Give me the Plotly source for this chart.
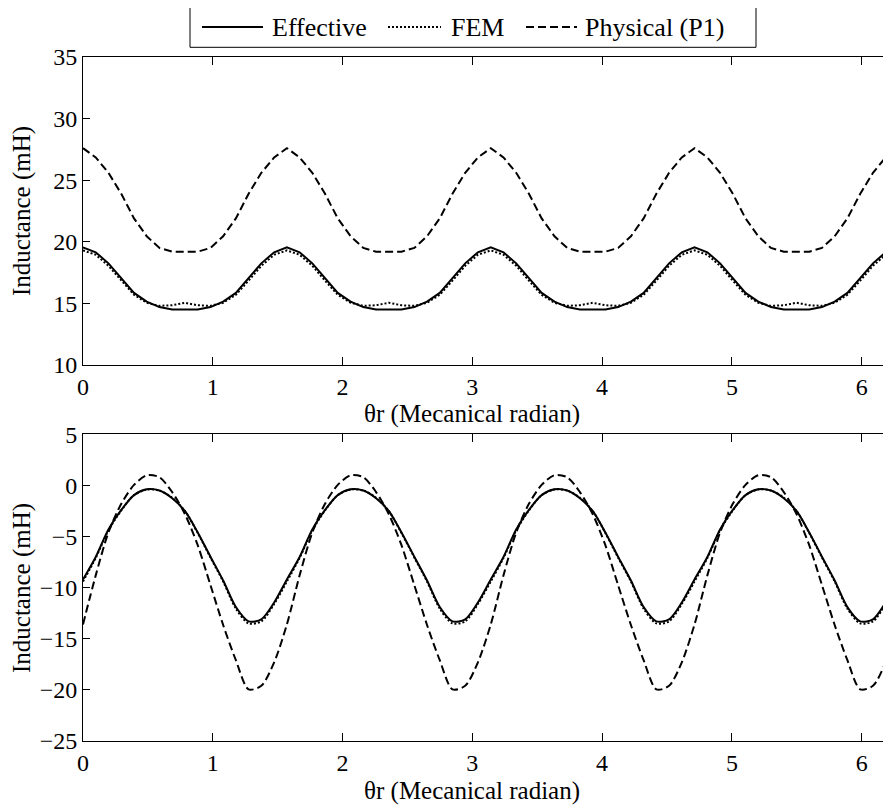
import plotly.graph_objects as go

theta = [0.000, 0.098, 0.196, 0.295, 0.393, 0.491, 0.589, 0.687, 0.785, 0.884, 0.982, 1.080, 1.178, 1.276, 1.374, 1.473,
         1.571, 1.669, 1.767, 1.865, 1.963, 2.062, 2.160, 2.258, 2.356, 2.454, 2.553, 2.651, 2.749, 2.847, 2.945, 3.043,
         3.142, 3.240, 3.338, 3.436, 3.534, 3.633, 3.731, 3.829, 3.927, 4.025, 4.123, 4.222, 4.320, 4.418, 4.516, 4.614,
         4.712, 4.811, 4.909, 5.007, 5.105, 5.203, 5.301, 5.400, 5.498, 5.596, 5.694, 5.792, 5.890, 5.989, 6.087, 6.185,
         6.283]

# Top panel
top_effective = [19.55, 19.15, 18.25, 17.05, 15.85, 15.15, 14.7, 14.5, 14.5, 14.5, 14.7, 15.15, 15.85, 17.05, 18.25, 19.15,
                 19.55, 19.15, 18.25, 17.05, 15.85, 15.15, 14.7, 14.5, 14.5, 14.5, 14.7, 15.15, 15.85, 17.05, 18.25, 19.15,
                 19.55, 19.15, 18.25, 17.05, 15.85, 15.15, 14.7, 14.5, 14.5, 14.5, 14.7, 15.15, 15.85, 17.05, 18.25, 19.15,
                 19.55, 19.15, 18.25, 17.05, 15.85, 15.15, 14.7, 14.5, 14.5, 14.5, 14.7, 15.15, 15.85, 17.05, 18.25, 19.15,
                 19.55]
top_fem = [19.3, 18.95, 18.05, 16.85, 15.7, 15.05, 14.8, 14.85, 15.05, 14.85, 14.8, 15.05, 15.7, 16.85, 18.05, 18.95,
           19.3, 18.95, 18.05, 16.85, 15.7, 15.05, 14.8, 14.85, 15.05, 14.85, 14.8, 15.05, 15.7, 16.85, 18.05, 18.95,
           19.3, 18.95, 18.05, 16.85, 15.7, 15.05, 14.8, 14.85, 15.05, 14.85, 14.8, 15.05, 15.7, 16.85, 18.05, 18.95,
           19.3, 18.95, 18.05, 16.85, 15.7, 15.05, 14.8, 14.85, 15.05, 14.85, 14.8, 15.05, 15.7, 16.85, 18.05, 18.95,
           19.3]
top_physical = [27.6, 26.85, 25.6, 23.9, 21.9, 20.45, 19.5, 19.2, 19.2, 19.2, 19.5, 20.45, 21.9, 23.9, 25.6, 26.85,
                27.6, 26.85, 25.6, 23.9, 21.9, 20.45, 19.5, 19.2, 19.2, 19.2, 19.5, 20.45, 21.9, 23.9, 25.6, 26.85,
                27.6, 26.85, 25.6, 23.9, 21.9, 20.45, 19.5, 19.2, 19.2, 19.2, 19.5, 20.45, 21.9, 23.9, 25.6, 26.85,
                27.6, 26.85, 25.6, 23.9, 21.9, 20.45, 19.5, 19.2, 19.2, 19.2, 19.5, 20.45, 21.9, 23.9, 25.6, 26.85,
                27.6]

# Bottom panel
bot_effective = [-9.2, -7.0, -4.3, -2.4, -0.95, -0.38, -0.5, -1.25, -2.5, -4.6, -6.97, -9.3, -11.9, -13.3, -13.1, -11.45,
                 -9.2, -7.0, -4.3, -2.4, -0.95, -0.38, -0.5, -1.25, -2.5, -4.6, -6.97, -9.3, -11.9, -13.3, -13.1, -11.45,
                 -9.2, -7.0, -4.3, -2.4, -0.95, -0.38, -0.5, -1.25, -2.5, -4.6, -6.97, -9.3, -11.9, -13.3, -13.1, -11.45,
                 -9.2, -7.0, -4.3, -2.4, -0.95, -0.38, -0.5, -1.25, -2.5, -4.6, -6.97, -9.3, -11.9, -13.3, -13.1, -11.45,
                 -9.2]
bot_fem = [-9.4, -7.1, -4.4, -2.45, -0.95, -0.4, -0.5, -1.2, -2.5, -4.65, -7.05, -9.4, -12.05, -13.5, -13.3, -11.6,
           -9.4, -7.1, -4.4, -2.45, -0.95, -0.4, -0.5, -1.2, -2.5, -4.65, -7.05, -9.4, -12.05, -13.5, -13.3, -11.6,
           -9.4, -7.1, -4.4, -2.45, -0.95, -0.4, -0.5, -1.2, -2.5, -4.65, -7.05, -9.4, -12.05, -13.5, -13.3, -11.6,
           -9.4, -7.1, -4.4, -2.45, -0.95, -0.4, -0.5, -1.2, -2.5, -4.65, -7.05, -9.4, -12.05, -13.5, -13.3, -11.6,
           -9.4]
bot_physical = [-13.6, -8.8, -4.6, -1.8, 0.05, 1.0, 0.8, -0.65, -2.8, -5.85, -9.75, -13.65, -17.1, -19.95, -19.6, -17.3,
                -13.6, -8.8, -4.6, -1.8, 0.05, 1.0, 0.8, -0.65, -2.8, -5.85, -9.75, -13.65, -17.1, -19.95, -19.6, -17.3,
                -13.6, -8.8, -4.6, -1.8, 0.05, 1.0, 0.8, -0.65, -2.8, -5.85, -9.75, -13.65, -17.1, -19.95, -19.6, -17.3,
                -13.6, -8.8, -4.6, -1.8, 0.05, 1.0, 0.8, -0.65, -2.8, -5.85, -9.75, -13.65, -17.1, -19.95, -19.6, -17.3,
                -13.6]

series_names = ["Effective", "FEM", "Physical (P1)"]
x_ticks = [0, 1, 2, 3, 4, 5, 6]
top_y_ticks = [10, 15, 20, 25, 30, 35]
bot_y_ticks = [-25, -20, -15, -10, -5, 0, 5]
x_title = "θr (Mecanical radian)"
y_title = "Inductance (mH)"

FONT = "Liberation Serif"
styles = [dict(color="black", width=2, dash="solid"),
          dict(color="black", width=2, dash="2px,2px"),
          dict(color="black", width=2, dash="8px,4px")]

fig = go.Figure()
for ys, st in zip([top_effective, top_fem, top_physical], styles):
    fig.add_trace(go.Scatter(x=theta, y=ys, mode="lines", line=st, showlegend=False,
                             xaxis="x", yaxis="y"))
for ys, st in zip([bot_effective, bot_fem, bot_physical], styles):
    fig.add_trace(go.Scatter(x=theta, y=ys, mode="lines", line=dict(**st, shape="spline", smoothing=0.8),
                             showlegend=False, xaxis="x2", yaxis="y2"))

axis_common = dict(showgrid=False, zeroline=False, showline=True, linecolor="black", linewidth=1,
                   ticks="inside", tickcolor="black", tickfont=dict(family=FONT, size=24, color="black"))

# the page body adds an 8px offset; reference pixel coords are converted below
O = 8
W, H = 891 - O, 806 - O
ML, MR, MT, MB = 83 - O, 0, 57 - O, 65
pw, ph = W - ML - MR, H - MT - MB


def px(xp):
    return (xp - O - ML) / pw


def py(yp):
    return (H - MB - (yp - O)) / ph


fig.update_layout(
    width=W, height=H,
    margin=dict(l=ML, r=MR, t=MT, b=MB),
    paper_bgcolor="white", plot_bgcolor="white",
    font=dict(family=FONT, size=24, color="black"),
    xaxis=dict(**axis_common, domain=[0, 1], range=[0, 6.226], tickvals=x_ticks, ticklen=8,
               mirror="ticks", anchor="y"),
    yaxis=dict(**axis_common, domain=[py(365), 1], range=[10, 35], tickvals=top_y_ticks, ticklen=7,
               anchor="x"),
    xaxis2=dict(**axis_common, domain=[0, 1], range=[0, 6.226], tickvals=x_ticks, ticklen=8,
                mirror="ticks", anchor="y2"),
    yaxis2=dict(**axis_common, domain=[0, py(434.3)], range=[-25, 5], tickvals=bot_y_ticks, ticklen=7,
                anchor="x2"),
)

ann = []
for yc in [414, 791]:
    ann.append(dict(x=px(472), y=py(yc), xref="paper", yref="paper", text=x_title, showarrow=False,
                    xanchor="center", yanchor="middle", font=dict(family=FONT, size=25)))
for yc in [211, 588]:
    ann.append(dict(x=px(22), y=py(yc), xref="paper", yref="paper", text=y_title, showarrow=False,
                    textangle=-90, xanchor="center", yanchor="middle", font=dict(family=FONT, size=25)))

# Legend box
shapes = [dict(type="rect", xref="paper", yref="paper", x0=px(190), x1=px(756), y0=py(47.3), y1=py(6.7),
               line=dict(color="black", width=1), fillcolor="white")]
leg_y = py(27)
samples = [(202, 263, 270), (388, 441, 449), (526, 577, 583)]
for (x0, x1, tx), st, name in zip(samples, styles, series_names):
    shapes.append(dict(type="line", xref="paper", yref="paper", x0=px(x0), x1=px(x1), y0=leg_y, y1=leg_y,
                       line=st))
    ann.append(dict(x=px(tx), y=leg_y, xref="paper", yref="paper", text=name, showarrow=False,
                    xanchor="left", yanchor="middle", font=dict(family=FONT, size=26)))

fig.update_layout(annotations=ann, shapes=shapes)
fig.write_html("out.html")
